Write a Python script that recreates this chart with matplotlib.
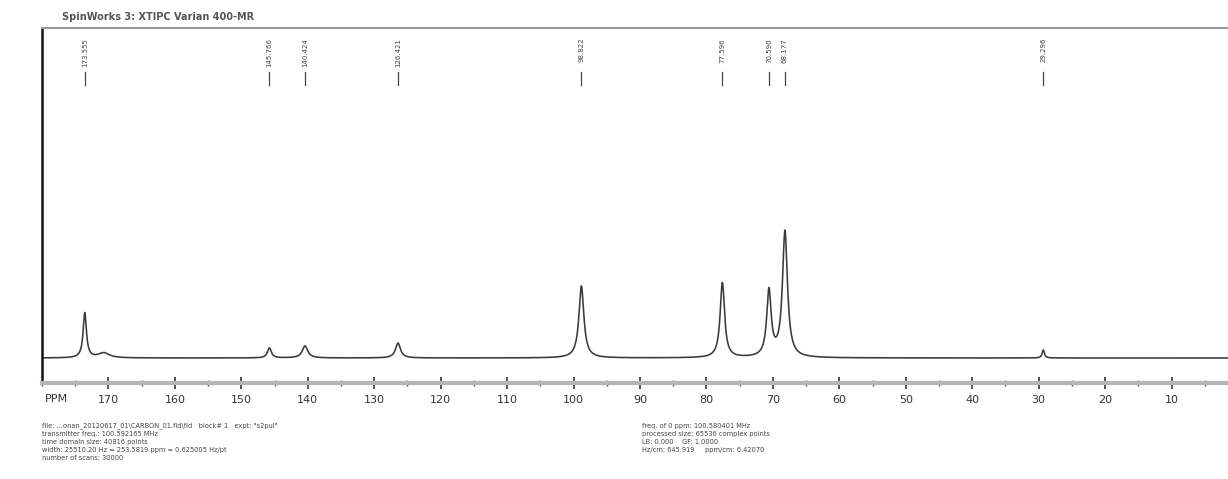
import numpy as np
import matplotlib
matplotlib.use("Agg")
import matplotlib.pyplot as plt
from matplotlib.transforms import blended_transform_factory
from matplotlib.ticker import MultipleLocator

# ---- data ----
peak_ppm = [173.56, 170.7, 145.77, 140.42, 126.42, 98.82, 77.60, 70.59, 68.18, 29.30]
peak_height = [45, 5, 10, 12, 15, 72, 75, 66, 126, 8]
peak_hwhm = [0.30, 1.0, 0.35, 0.50, 0.45, 0.45, 0.40, 0.40, 0.45, 0.20]

label_ppm = [173.56, 145.77, 140.42, 126.42, 98.82, 77.60, 70.59, 68.18, 29.30]
label_text = ["173.555", "145.766", "140.424", "126.421", "98.822",
              "77.596", "70.590", "68.177", "29.296"]

tick_major = [170, 160, 150, 140, 130, 120, 110, 100, 90, 80, 70, 60, 50, 40, 30, 20, 10]

title = "SpinWorks 3: XTIPC Varian 400-MR"
info_left = [
    'file: ...onan_20120617_01\\CARBON_01.fid\\fid   block# 1   expt: "s2pul"',
    "transmitter freq.: 100.592165 MHz",
    "time domain size: 40816 points",
    "width: 25510.20 Hz = 253.5819 ppm = 0.625005 Hz/pt",
    "number of scans: 30000",
]
info_right = [
    "freq. of 0 ppm: 100.580401 MHz",
    "processed size: 65536 complex points",
    "LB: 0.000    GF: 1.0000",
    "Hz/cm: 645.919     ppm/cm: 6.42070",
]

# ---- spectrum built from the peak list ----
x = np.linspace(180, 1.5, 8000)
y = np.zeros_like(x)
for p, h, w in zip(peak_ppm, peak_height, peak_hwhm):
    y += h / (1 + ((x - p) / w) ** 2)

fig = plt.figure(figsize=(12.28, 4.79), dpi=100)
fig.patch.set_facecolor("white")
ax = fig.add_axes([0.0342, 0.2004, 0.9658, 0.7411])
ax.plot(x, y, color="#3a3a3a", lw=1.15)
ax.set_xlim(180, 1.5)
ax.set_ylim(-25, 330)

ax.spines["right"].set_visible(False)
ax.spines["top"].set_color("#9a9a9a")
ax.spines["top"].set_linewidth(1.5)
ax.spines["left"].set_color("#111111")
ax.spines["left"].set_linewidth(1.8)
ax.spines["bottom"].set_color("#b5b5b5")
ax.spines["bottom"].set_linewidth(3)

ax.set_yticks([])
ax.set_xticks(tick_major)
ax.set_xticklabels([str(t) for t in tick_major])
ax.xaxis.set_minor_locator(MultipleLocator(5))
ax.tick_params(axis="x", which="major", direction="inout", length=9, width=1.2,
               color="#333333", labelsize=8, labelcolor="#333333", pad=4)
ax.tick_params(axis="x", which="minor", direction="inout", length=5, width=1.0,
               color="#555555")

ax.text(0.0025, -0.045, "PPM", transform=ax.transAxes, fontsize=8,
        color="#333333", ha="left", va="center")

trans = blended_transform_factory(ax.transData, ax.transAxes)
for p, t in zip(label_ppm, label_text):
    ax.text(p, 0.972, t, transform=trans, rotation=90, fontsize=5,
            color="#444444", ha="center", va="top")
    ax.plot([p, p], [0.876, 0.839], transform=trans, color="#444444", lw=0.9)

fig.text(62 / 1228, 1 - 17 / 479, title, fontsize=7, fontweight="bold",
         color="#555555", ha="left", va="center")

for i, line in enumerate(info_left):
    fig.text(42 / 1228, 1 - (426 + 8 * i) / 479, line, fontsize=4.8,
             color="#444444", ha="left", va="center")
for i, line in enumerate(info_right):
    fig.text(642 / 1228, 1 - (426 + 8 * i) / 479, line, fontsize=4.8,
             color="#444444", ha="left", va="center")

fig.savefig("out.png", dpi=100, facecolor="white")
